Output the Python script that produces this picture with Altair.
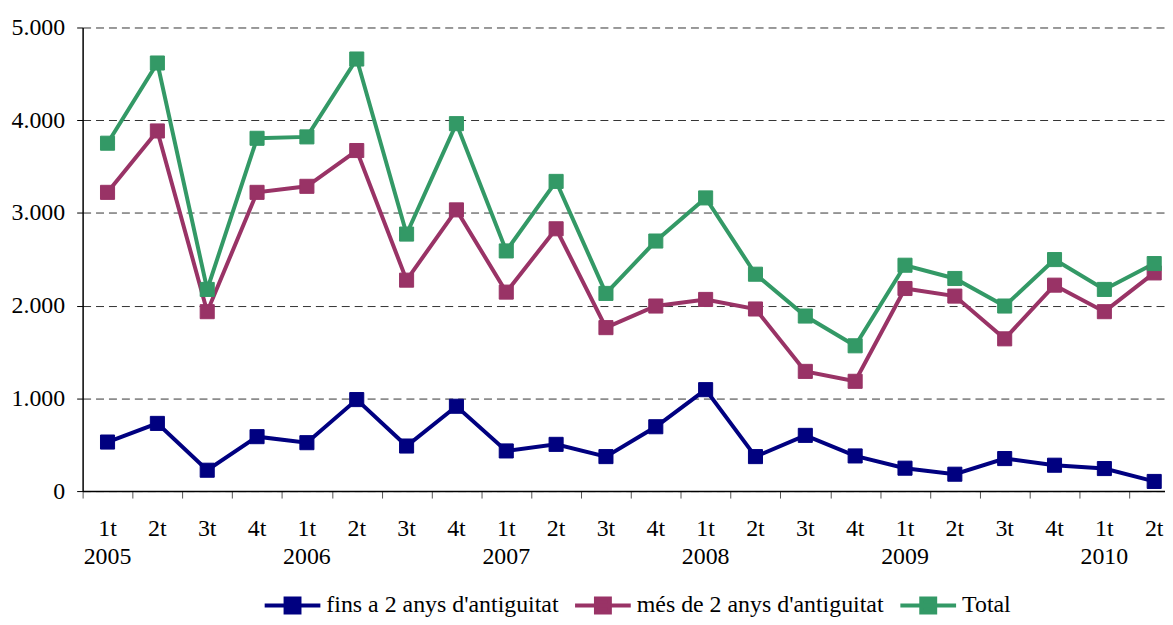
import altair as alt
import pandas as pd

quarters = ["1t", "2t", "3t", "4t", "1t", "2t", "3t", "4t", "1t", "2t", "3t", "4t",
            "1t", "2t", "3t", "4t", "1t", "2t", "3t", "4t", "1t", "2t"]
years = ["2005", "", "", "", "2006", "", "", "", "2007", "", "", "",
         "2008", "", "", "", "2009", "", "", "", "2010", ""]

fins = [529, 730, 225, 587, 522, 987, 486, 915, 433, 504, 372, 694,
        1094, 372, 601, 379, 247, 182, 351, 279, 243, 104]
mes = [3222, 3884, 1935, 3222, 3287, 3673, 2275, 3033, 2146, 2829, 1763, 1996,
       2067, 1964, 1291, 1184, 2185, 2103, 1642, 2221, 1935, 2353]
total = [3752, 4617, 2175, 3805, 3820, 4660, 2772, 3963, 2590, 3340, 2132, 2697,
         3162, 2339, 1888, 1567, 2436, 2293, 1996, 2497, 2175, 2454]

series_names = ["fins a 2 anys d'antiguitat", "més de 2 anys d'antiguitat", "Total"]
series_colors = ["#000080", "#993366", "#339966"]
y_ticks = [0, 1000, 2000, 3000, 4000, 5000]

rows = []
for name, vals in zip(series_names, [fins, mes, total]):
    for i, v in enumerate(vals):
        rows.append({"pos": i + 0.5, "serie": name, "valor": v})
df = pd.DataFrame(rows)

lab = pd.DataFrame({"pos": [i + 0.5 for i in range(len(quarters))],
                    "q": quarters, "any": years})

BAND = 50.1
W, H = 1088, 466
FONT = "Liberation Serif"
FS = 24

cscale = alt.Scale(domain=series_names, range=series_colors)

x_enc = alt.X("pos:Q",
              scale=alt.Scale(domain=[0, W / BAND], nice=False, zero=False),
              axis=alt.Axis(values=list(range(len(quarters))), labels=False,
                            ticks=True, tickSize=7, tickColor="#555",
                            domainColor="#000", domainWidth=1.5, grid=False, title=None))
y_enc = alt.Y("valor:Q",
              scale=alt.Scale(domain=[0, 5000], nice=False),
              axis=alt.Axis(values=y_ticks,
                            labelExpr="replace(format(datum.value, ','), ',', '.')",
                            grid=True, gridDash=[8, 5], gridColor="#333", gridWidth=1,
                            tickSize=6, tickColor="#000", domainColor="#000", domainWidth=1.5,
                            labelPadding=12, title=None,
                            labelFont=FONT, labelFontSize=FS, labelColor="#000"))

legend = alt.Legend(
    title=None, orient="none", direction="horizontal", legendX=181, legendY=551,
    labelFont=FONT, labelFontSize=FS, labelColor="#000", labelOffset=4, labelLimit=500,
    columnPadding=8, padding=0,
    symbolType="M-1,0L1,0M-0.25,-0.25L0.25,-0.25L0.25,0.25L-0.25,0.25Z",
    symbolSize=3136, symbolStrokeWidth=4, symbolOpacity=1,
)

base = alt.Chart(df)

lines = base.mark_line(strokeWidth=4).encode(
    x=x_enc, y=y_enc,
    stroke=alt.Stroke("serie:N", scale=cscale, legend=legend),
    detail="serie:N",
)

points = base.mark_point(shape="square", filled=True, size=200, opacity=1, strokeWidth=1).encode(
    x=x_enc, y=y_enc,
    color=alt.Color("serie:N", scale=cscale, legend=legend),
    stroke=alt.Stroke("serie:N", scale=cscale, legend=legend),
)

qlabels = alt.Chart(lab).mark_text(font=FONT, fontSize=FS, color="#000", baseline="middle").encode(
    x=alt.X("pos:Q"), y=alt.value(H + 38), text="q:N")

ylabels = alt.Chart(lab).transform_filter("datum.any != ''").mark_text(
    font=FONT, fontSize=FS, color="#000", baseline="middle").encode(
    x=alt.X("pos:Q"), y=alt.value(H + 66), text="any:N")

chart = alt.layer(lines, points, qlabels, ylabels).properties(
    width=W, height=H,
    autosize=alt.AutoSizeParams(type="none"),
    padding={"left": 75, "top": 18, "right": 0, "bottom": 131},
    background="white",
).configure(font=FONT).configure_legend(labelFont=FONT).configure_axis(labelFont=FONT).configure_view(stroke=None)

chart.save("out.html", embed_options={"renderer": "svg", "actions": False})
